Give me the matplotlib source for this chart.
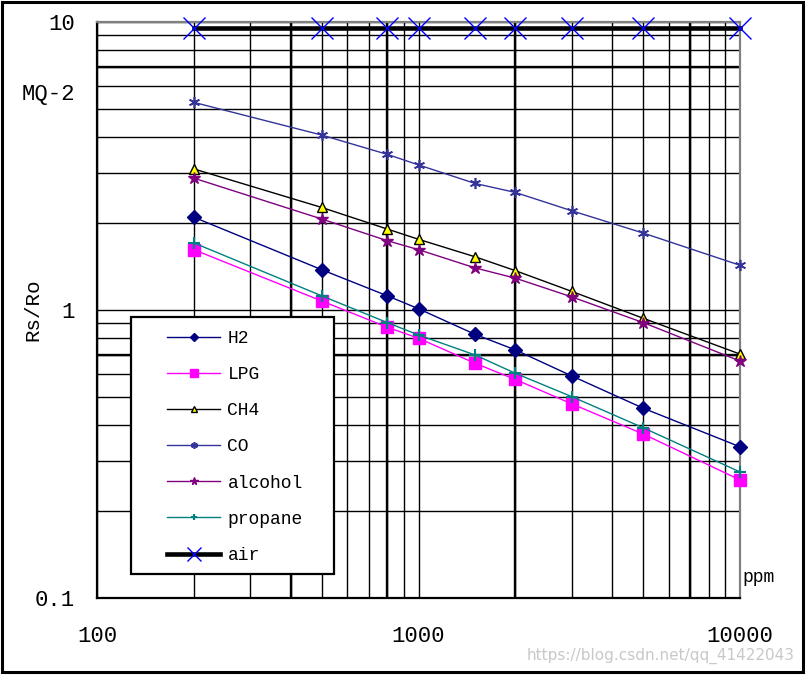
import matplotlib
matplotlib.use("Agg")
import matplotlib.pyplot as plt
from matplotlib.patches import Rectangle
from matplotlib.ticker import LogLocator, NullFormatter

plt.rcParams['font.family'] = ['Liberation Mono', 'DejaVu Sans Mono']

# gas concentration (ppm) and Rs/Ro readings
ppm = [200, 500, 800, 1000, 1500, 2000, 3000, 5000, 10000]
h2 = [2.10, 1.38, 1.12, 1.01, 0.823, 0.727, 0.590, 0.456, 0.335]
lpg = [1.62, 1.075, 0.871, 0.798, 0.653, 0.574, 0.472, 0.371, 0.257]
ch4 = [3.09, 2.27, 1.91, 1.76, 1.53, 1.37, 1.16, 0.936, 0.703]
co = [5.26, 4.05, 3.47, 3.19, 2.75, 2.56, 2.21, 1.85, 1.43]
alcohol = [2.87, 2.07, 1.74, 1.62, 1.40, 1.29, 1.11, 0.904, 0.665]
propane = [1.71, 1.12, 0.904, 0.819, 0.698, 0.603, 0.500, 0.390, 0.274]
air = [9.55, 9.55, 9.55, 9.55, 9.55, 9.55, 9.55, 9.55, 9.55]

series_names = ["H2", "LPG", "CH4", "CO", "alcohol", "propane", "air"]
xtick_vals = [100, 1000, 10000]
xtick_labels = ["100", "1000", "10000"]
ytick_vals = [0.1, 1, 10]
ytick_labels = ["0.1", "1", "10"]
# grid lines that come out heavier in the original
thick_x = [400, 800, 2000, 7000]
thick_y = [0.7, 7]

W, H = 807, 675
fig = plt.figure(figsize=(W / 100, H / 100), dpi=100)
ax = fig.add_axes([97 / W, 1 - 598 / H, 643 / W, 576 / H])

ax.set_xscale('log')
ax.set_yscale('log')
ax.set_xlim(100, 10000)
ax.set_ylim(0.1, 10)

# log grid, major + minor
ax.xaxis.set_minor_locator(LogLocator(base=10, subs=range(2, 10)))
ax.yaxis.set_minor_locator(LogLocator(base=10, subs=range(2, 10)))
ax.xaxis.set_minor_formatter(NullFormatter())
ax.yaxis.set_minor_formatter(NullFormatter())
ax.grid(True, which='both', color='black', linewidth=1.0)
ax.set_axisbelow(True)
for v in thick_x:
    ax.axvline(v, color='black', linewidth=1.7, zorder=0.6)
for v in thick_y:
    ax.axhline(v, color='black', linewidth=1.7, zorder=0.6)

ax.set_xticks(xtick_vals)
ax.set_xticklabels(xtick_labels)
ax.set_yticks(ytick_vals)
ax.set_yticklabels(ytick_labels)
ax.tick_params(which='both', length=0)
ax.tick_params(axis='x', pad=20, labelsize=16)
ax.tick_params(axis='y', pad=16, labelsize=16)

for s in ['left', 'bottom']:
    ax.spines[s].set_color('black')
    ax.spines[s].set_linewidth(1.6)
for s in ['top', 'right']:
    ax.spines[s].set_color('#808080')
    ax.spines[s].set_linewidth(1.6)

lw = 1.0
ax.plot(ppm, h2, color='#000080', lw=lw, marker='D', ms=7, mec='#000080',
        label=series_names[0], clip_on=False, zorder=3)
ax.plot(ppm, lpg, color='#FF00FF', lw=lw, marker='s', ms=8.5, mec='#FF00FF',
        label=series_names[1], clip_on=False, zorder=3)
ax.plot(ppm, ch4, color='black', lw=lw, marker='^', ms=7, mfc='#FFFF00', mec='black',
        mew=1.0, label=series_names[2], clip_on=False, zorder=3)
ax.plot(ppm, co, color='#333399', lw=lw, marker=(6, 2, 0), ms=8, mec='#333399', mew=1.2,
        label=series_names[3], clip_on=False, zorder=3)
ax.plot(ppm, alcohol, color='#800080', lw=lw, marker='*', ms=9, mec='#800080',
        label=series_names[4], clip_on=False, zorder=3)
ax.plot(ppm, propane, color='#008080', lw=lw, marker='+', ms=8, mew=1.5,
        label=series_names[5], clip_on=False, zorder=3)
ax.plot(ppm, air, color='black', lw=3.3, marker='x', ms=16, mec='#0000FF', mew=1.0,
        label=series_names[6], clip_on=False, zorder=3)

# legend box drawn separately so the entries can sit inset like the original
ax.add_patch(Rectangle((34 / 643, 24 / 576), 203 / 643, 257 / 576, transform=ax.transAxes,
                       facecolor='white', edgecolor='black', linewidth=1.6, zorder=5))
leg = ax.legend(loc='upper left', bbox_to_anchor=(70 / 643, 268 / 576), frameon=False,
                borderpad=0, borderaxespad=0, fontsize=13, handlelength=2.95,
                handletextpad=0.4, labelspacing=1.06, markerscale=0.6)
leg.set_zorder(6)

ax.set_ylabel("Rs/Ro", fontsize=15)
ax.yaxis.set_label_coords(-55 / 643, 0.5)
ax.text(-22 / 643, 5.58, "MQ-2", transform=ax.get_yaxis_transform(), ha='right',
        va='center', fontsize=16)
ax.text(1.003, 20 / 576, "ppm", transform=ax.transAxes, ha='left', va='center',
        fontsize=13)

fig.text(795 / W, 1 - 656 / H, "https://blog.csdn.net/qq_41422043", ha='right', va='center',
         fontsize=11, color='#c8c8c8', family='DejaVu Sans')

fig.add_artist(Rectangle((1.5 / W, 3 / H), 801 / W, 670 / H, transform=fig.transFigure,
                         fill=False, edgecolor='black', linewidth=2.2))

fig.savefig("out.png", dpi=100)
